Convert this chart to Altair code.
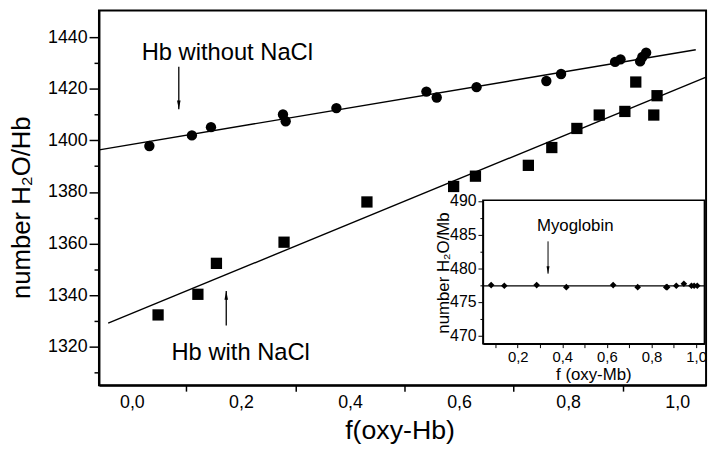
import altair as alt
import pandas as pd

FONT = "Liberation Sans"

# ---- Main panel data: Hb without NaCl (circles) ----
hb_no_x = [0.032, 0.110, 0.145, 0.277, 0.282, 0.375, 0.540, 0.559, 0.632, 0.760, 0.787,
           0.886, 0.896, 0.932, 0.936, 0.943]
hb_no_y = [1397.8, 1401.9, 1405.1, 1410.0, 1407.4, 1412.5, 1418.9, 1416.6, 1420.6, 1423.0,
           1425.7, 1430.4, 1431.4, 1430.6, 1432.3, 1434.0]

# ---- Hb with NaCl (squares) ----
hb_na_x = [0.048, 0.121, 0.155, 0.279, 0.431, 0.590, 0.630, 0.727, 0.770, 0.816, 0.857,
           0.904, 0.924, 0.957, 0.963]
hb_na_y = [1332.3, 1340.3, 1352.3, 1360.5, 1376.1, 1382.1, 1386.1, 1390.3, 1397.2, 1404.6,
           1409.8, 1411.2, 1422.6, 1409.8, 1417.3]

# ---- linear fits (end points) ----
fit_no_x = [-0.060, 1.034]
fit_no_y = [1396.3, 1435.1]
fit_na_x = [-0.0435, 1.053]
fit_na_y = [1329.1, 1424.5]

# ---- Inset: Myoglobin ----
mb_x = [0.081, 0.140, 0.285, 0.418, 0.628, 0.738, 0.866, 0.870, 0.911, 0.945, 0.979, 0.991, 1.005]
mb_y = [477.5, 477.4, 477.5, 477.2, 477.5, 477.2, 477.2, 477.2, 477.4, 477.7, 477.4, 477.4, 477.4]
mb_fit_x = [0.044, 1.037]
mb_fit_y = [477.4, 477.4]

# ---- axis tick values ----
main_x_ticks = [round(i * 0.1, 1) for i in range(11)]
main_y_ticks = list(range(1310, 1450, 10))
inset_x_ticks = [round(i * 0.1, 1) for i in range(1, 11)]
inset_y_ticks = [470 + 2.5 * i for i in range(9)]

# ---- annotations ----
ann_main = pd.DataFrame({
    "x": [0.175, 0.1995],
    "y": [1431.2, 1314.75],
    "t": ["Hb without NaCl", "Hb with NaCl"],
})
arrow_down = pd.DataFrame({"x": [0.086], "y": [1428.5], "y2": [1412.0]})
arrow_up = pd.DataFrame({"x": [0.173], "y": [1328.2], "y2": [1341.6]})
ann_inset = pd.DataFrame({"x": [0.458], "y": [485.6], "t": ["Myoglobin"]})
arrow_inset = pd.DataFrame({"x": [0.336], "y": [484.0], "y2": [479.2]})
inset_box = pd.DataFrame({"x": [0.044], "x2": [1.037], "y": [468.8], "y2": [490.1]})

df_no = pd.DataFrame({"x": hb_no_x, "y": hb_no_y})
df_na = pd.DataFrame({"x": hb_na_x, "y": hb_na_y})
df_fit_no = pd.DataFrame({"x": fit_no_x, "y": fit_no_y})
df_fit_na = pd.DataFrame({"x": fit_na_x, "y": fit_na_y})
df_mb = pd.DataFrame({"x": mb_x, "y": mb_y})
df_mb_fit = pd.DataFrame({"x": mb_fit_x, "y": mb_fit_y})

W, H = 614, 379

X_MAIN = alt.Scale(domain=[-0.0604, 1.0529], nice=False, zero=False)
Y_MAIN = alt.Scale(domain=[1305.05, 1450.35], nice=False, zero=False)
X_IN = alt.Scale(domain=[0.044, 1.037], range=[388.3, 612.3], nice=False, zero=False)
Y_IN = alt.Scale(domain=[468.8, 490.1], range=[337, 192], nice=False, zero=False)

main_x_axis = alt.Axis(
    orient="bottom", values=main_x_ticks,
    labelExpr="round(datum.value*10) % 2 == 0 ? replace(format(datum.value, '.1f'), '.', ',') : ''",
    tickOpacity={"condition": {"test": "round(datum.value*10) % 2 == 1", "value": 1}, "value": 0},
    tickSize=6, tickWidth=1.5, domainWidth=2, labelFontSize=18, labelPadding=3,
    labelFlush=False, labelOverlap=False,
    title="f(oxy-Hb)", titleFontSize=27, titleX=304, titleY=54,
    titleBaseline="alphabetic", titleAlign="center", zindex=1,
)
main_y_axis = alt.Axis(
    orient="left", values=main_y_ticks, format="d",
    labelExpr="datum.value % 20 == 0 ? datum.label : ''",
    tickSize={"condition": {"test": "datum.value % 20 == 0", "value": 10}, "value": 5},
    tickWidth=1.5, domainWidth=2, labelFontSize=18, labelPadding=2, labelOverlap=False,
    title="number H₂O/Hb", titleFontSize=26, titleAngle=270, titleX=-70, titleY=199,
    titleBaseline="alphabetic", titleAlign="center", zindex=1,
)
inset_x_axis = alt.Axis(
    orient="bottom", offset=-42, values=inset_x_ticks,
    labelExpr="round(datum.value*10) % 2 == 0 ? replace(format(datum.value, '.1f'), '.', ',') : ''",
    tickSize=4, tickWidth=1, domainWidth=1.5, labelFontSize=15, labelPadding=2,
    labelFlush=False, labelOverlap=False,
    title="f (oxy-Mb)", titleFontSize=17, titleX=500, titleY=36,
    titleBaseline="alphabetic", titleAlign="center", zindex=1,
)
inset_y_axis = alt.Axis(
    orient="left", offset=-388.3, values=inset_y_ticks, format="d",
    labelExpr="datum.value % 5 == 0 ? format(datum.value, 'd') : ''",
    tickSize={"condition": {"test": "datum.value % 5 == 0", "value": 5}, "value": 3},
    tickWidth=1, domainWidth=1.5, labelFontSize=16, labelPadding=2, labelOverlap=False,
    title="number  H₂O/Mb", titleFontSize=17, titleAngle=270, titleX=-35, titleY=265,
    titleBaseline="alphabetic", titleAlign="center", zindex=1,
)

def mx():
    return alt.X("x:Q", scale=X_MAIN, axis=main_x_axis)

def my(field="y"):
    return alt.Y(f"{field}:Q", scale=Y_MAIN, axis=main_y_axis)

circles = alt.Chart(df_no).mark_point(filled=True, shape="circle", size=110, color="black", opacity=1).encode(
    x=mx(), y=my())
squares = alt.Chart(df_na).mark_point(filled=True, shape="square", size=130, color="black", opacity=1).encode(
    x=mx(), y=my())
line_no = alt.Chart(df_fit_no).mark_line(color="black", strokeWidth=1.4, clip=True).encode(x=mx(), y=my())
line_na = alt.Chart(df_fit_na).mark_line(color="black", strokeWidth=1.4, clip=True).encode(x=mx(), y=my())
texts = alt.Chart(ann_main).mark_text(font=FONT, fontSize=24, color="black", baseline="alphabetic",
                                      align="center").encode(x=mx(), y=my(), text="t:N")
arr1 = alt.Chart(arrow_down).mark_rule(color="black", strokeWidth=1.3).encode(
    x=mx(), y=my(), y2="y2:Q")
arr1h = alt.Chart(arrow_down).mark_point(shape="M0,0L-0.6,-3L0.6,-3Z", filled=True, size=36,
                                         color="black", opacity=1).encode(x=mx(), y=my("y2"))
arr2 = alt.Chart(arrow_up).mark_rule(color="black", strokeWidth=1.3).encode(
    x=mx(), y=my(), y2="y2:Q")
arr2h = alt.Chart(arrow_up).mark_point(shape="M0,0L-0.6,3L0.6,3Z", filled=True, size=36,
                                       color="black", opacity=1).encode(x=mx(), y=my("y2"))

main = alt.layer(circles, squares, line_no, line_na, texts, arr1, arr1h, arr2, arr2h)


def ix():
    return alt.X("x:Q", scale=X_IN, axis=inset_x_axis)

def iy(field="y"):
    return alt.Y(f"{field}:Q", scale=Y_IN, axis=inset_y_axis)

box = alt.Chart(inset_box).mark_rect(fill="white", stroke="black", strokeWidth=1.5).encode(
    x=ix(), x2="x2:Q", y=iy(), y2="y2:Q")
mb_line = alt.Chart(df_mb_fit).mark_line(color="black", strokeWidth=1.2).encode(x=ix(), y=iy())
mb_pts = alt.Chart(df_mb).mark_point(shape="diamond", filled=True, size=45, color="black", opacity=1).encode(
    x=ix(), y=iy())
mb_text = alt.Chart(ann_inset).mark_text(font=FONT, fontSize=17, color="black", baseline="alphabetic",
                                         align="center").encode(x=ix(), y=iy(), text="t:N")
arr3 = alt.Chart(arrow_inset).mark_rule(color="black", strokeWidth=1).encode(
    x=ix(), y=iy(), y2="y2:Q")
arr3h = alt.Chart(arrow_inset).mark_point(shape="M0,0L-0.6,-3L0.6,-3Z", filled=True, size=25,
                                          color="black", opacity=1).encode(x=ix(), y=iy("y2"))

inset = alt.layer(box, mb_line, mb_pts, mb_text, arr3, arr3h)

chart = alt.layer(main, inset).resolve_scale(
    x="independent", y="independent"
).resolve_axis(
    x="independent", y="independent"
).properties(
    width=W, height=H,
    background="white",
    autosize=alt.AutoSizeParams(type="none"),
    padding={"left": 92, "top": 0, "right": 6, "bottom": 59},
).configure_view(
    stroke="black", strokeWidth=2
).configure_axis(
    labelFont=FONT, titleFont=FONT, labelColor="black", titleColor="black",
    domainColor="black", tickColor="black", grid=False, titleFontWeight="normal",
)

chart.save("out.html", embed_options={"renderer": "svg", "actions": False})
